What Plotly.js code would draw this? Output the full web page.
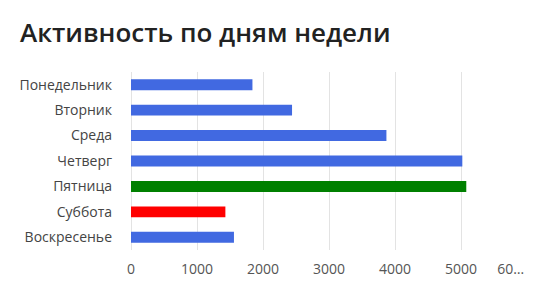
<!DOCTYPE html>
<html>
<head>
<meta charset="utf-8">
<script src="https://cdn.plot.ly/plotly-3.0.1.min.js"></script>
<style>html,body{margin:0;padding:0;background:#fff;}#chart{width:560px;height:295px;}</style>
</head>
<body>
<div id="chart"></div>
<script>
const days = ["Понедельник", "Вторник", "Среда", "Четверг", "Пятница", "Суббота", "Воскресенье"];
const activity = [1840, 2440, 3870, 5020, 5080, 1430, 1560];
const tickValues = [0, 1000, 2000, 3000, 4000, 5000, 6000];
const tickLabels = ["0", "1000", "2000", "3000", "4000", "5000", "60…\u00a0\u00a0\u00a0\u00a0\u00a0\u00a0\u00a0\u00a0\u00a0"];
const barColors = ["royalblue", "royalblue", "royalblue", "royalblue", "green", "red", "royalblue"];

const trace = {
  type: "bar",
  orientation: "h",
  y: days,
  x: activity,
  marker: { color: barColors },
  width: 0.43,
  hoverinfo: "x+y"
};

const layout = {
  width: 560,
  height: 295,
  margin: { l: 131, r: 33, t: 72, b: 45 },
  paper_bgcolor: "#fff",
  plot_bgcolor: "#fff",
  showlegend: false,
  title: {
    text: "Активность по дням недели",
    font: { family: "Open Sans", size: 26, color: "#222", weight: 600 },
    x: 20 / 560, xref: "container", xanchor: "left",
    y: 1 - 33 / 295, yref: "container", yanchor: "middle"
  },
  xaxis: {
    range: [0, 6000],
    tickvals: tickValues,
    ticktext: tickLabels,
    showgrid: true,
    gridcolor: "#e3e3e3",
    gridwidth: 1,
    zeroline: true,
    zerolinecolor: "#e3e3e3",
    zerolinewidth: 1,
    showline: false,
    ticks: "",
    ticklabelstandoff: 9,
    tickfont: { family: "Open Sans", size: 14, color: "#555" },
    fixedrange: true
  },
  yaxis: {
    autorange: "reversed",
    type: "category",
    ticks: "",
    showgrid: false,
    showline: false,
    ticklabelstandoff: 18,
    tickfont: { family: "Open Sans", size: 14, color: "#444" },
    fixedrange: true
  }
};

Plotly.newPlot("chart", [trace], layout, { displayModeBar: false, staticPlot: true });
</script>
</body>
</html>
